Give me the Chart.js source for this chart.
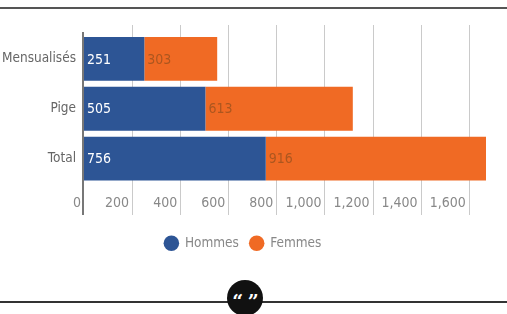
<!DOCTYPE html>
<html lang="fr">
<head>
<meta charset="utf-8">
<title>Mensualisés et pigistes - Hommes / Femmes</title>
<script src="https://cdn.jsdelivr.net/npm/chart.js"></script>
<style>
  html, body { margin: 0; padding: 0; background: #fff; }
  .wrap { position: relative; width: 507px; height: 314px; overflow: hidden; }
  .top-rule { position: absolute; left: 0; top: 7px; width: 507px; height: 2px; background: #555; }
  .bottom-rule { position: absolute; top: 301px; height: 2px; background: #333; }
  .quote {
    position: absolute; left: 227px; top: 280px; width: 36px; height: 36px;
    border-radius: 50%; background: #111; color: #fff;
    font: bold 19px "DejaVu Serif", serif; text-align: center; line-height: 42px;
    letter-spacing: -1px;
  }
  canvas { position: absolute; left: 0; top: 0; }
</style>
</head>
<body>
<div class="wrap">
  <div class="top-rule"></div>
  <canvas id="chart" width="507" height="270"></canvas>
  <div class="bottom-rule" style="left:0; width:228px;"></div>
  <div class="bottom-rule" style="left:262px; width:245px;"></div>
  <div class="quote">“ ”</div>
</div>

<script>
  const categories = ['Mensualisés', 'Pige', 'Total'];
  const hommes = [251, 505, 756];
  const femmes = [303, 613, 916];
  const xTickValues = [0, 200, 400, 600, 800, 1000, 1200, 1400, 1600];

  const FONT = '"DejaVu Sans Condensed", "Liberation Sans", sans-serif';
  const BLUE = '#2d5595';
  const ORANGE = '#f06a24';

  const totals = hommes.map((h, i) => h + femmes[i]);

  // vertical gridlines, drawn behind the bars and running past the chart area
  const gridPlugin = {
    id: 'longGrid',
    beforeDatasetsDraw(chart) {
      const ctx = chart.ctx;
      const x = chart.scales.x;
      ctx.save();
      x.ticks.forEach(t => {
        const px = Math.round(x.getPixelForValue(t.value));
        if (t.value === 0) {
          ctx.strokeStyle = '#777';
          ctx.lineWidth = 2;
          ctx.beginPath();
          ctx.moveTo(px - 1, 32);
          ctx.lineTo(px - 1, 215);
          ctx.stroke();
        } else {
          ctx.strokeStyle = '#cacaca';
          ctx.lineWidth = 1;
          ctx.beginPath();
          ctx.moveTo(px + 0.5, 25);
          ctx.lineTo(px + 0.5, 215);
          ctx.stroke();
        }
      });
      ctx.restore();
    }
  };

  // value labels at the start of each segment
  const valuePlugin = {
    id: 'segmentValues',
    afterDatasetsDraw(chart) {
      const ctx = chart.ctx;
      ctx.save();
      ctx.font = '14px ' + FONT;
      ctx.textAlign = 'left';
      ctx.textBaseline = 'middle';
      chart.data.datasets.forEach((ds, di) => {
        const meta = chart.getDatasetMeta(di);
        ctx.fillStyle = di === 0 ? '#ffffff' : 'rgba(150,80,30,0.75)';
        meta.data.forEach((bar, i) => {
          ctx.fillText(String(ds.data[i]), Math.min(bar.base, bar.x) + 3, bar.y + 1);
        });
      });
      ctx.restore();
    }
  };

  new Chart(document.getElementById('chart'), {
    type: 'bar',
    data: {
      labels: categories,
      datasets: [
        { label: 'Hommes', data: hommes, backgroundColor: BLUE },
        { label: 'Femmes', data: femmes, backgroundColor: ORANGE }
      ]
    },
    options: {
      indexAxis: 'y',
      responsive: false,
      animation: false,
      barPercentage: 0.88,
      categoryPercentage: 1,
      layout: { padding: { top: 34, right: 21, bottom: 10, left: 0 } },
      scales: {
        x: {
          stacked: true,
          min: 0,
          max: Math.max(...totals),
          border: { display: false },
          grid: { display: false, drawTicks: false },
          afterBuildTicks(scale) {
            scale.ticks = xTickValues.map(v => ({ value: v }));
          },
          afterFit(scale) { scale.height = 42; },
          ticks: {
            align: 'end',
            labelOffset: -3,
            padding: 11,
            color: '#888',
            font: { family: FONT, size: 14 },
            maxRotation: 0,
            autoSkip: false,
            callback: v => Number(v).toLocaleString('en-US')
          }
        },
        y: {
          stacked: true,
          border: { display: false },
          grid: { display: false, drawTicks: false },
          afterFit(scale) { scale.width = 84; },
          ticks: {
            padding: 8,
            color: '#666',
            font: { family: FONT, size: 13.5 }
          }
        }
      },
      plugins: {
        legend: {
          position: 'bottom',
          labels: {
            usePointStyle: true,
            pointStyle: 'circle',
            boxWidth: 15,
            boxHeight: 11,
            padding: 11,
            color: '#888',
            font: { family: FONT, size: 13.5 }
          }
        },
        tooltip: { enabled: false }
      }
    },
    plugins: [gridPlugin, valuePlugin]
  });
</script>
</body>
</html>
